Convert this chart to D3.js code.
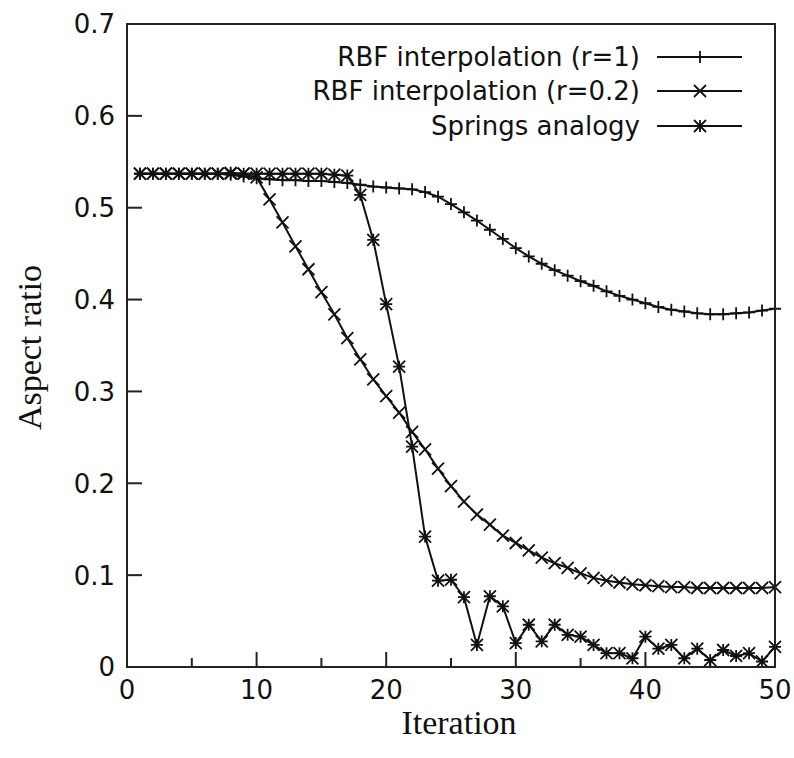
<!DOCTYPE html>
<html>
<head>
<meta charset="utf-8">
<script src="https://cdn.jsdelivr.net/npm/d3@7"></script>
<style>
  body { margin: 0; background: #fff; }
  svg { display: block; }
  .tick-label { font-family: "DejaVu Sans", sans-serif; font-size: 26px; fill: #111; }
  .axis-title { font-family: "Liberation Serif", serif; font-size: 34px; fill: #111; }
</style>
</head>
<body>
<div id="chart"></div>
<script>
// iteration numbers (x)
const iterations = [1, 2, 3, 4, 5, 6, 7, 8, 9, 10, 11, 12, 13, 14, 15, 16, 17, 18, 19, 20,
  21, 22, 23, 24, 25, 26, 27, 28, 29, 30, 31, 32, 33, 34, 35, 36, 37, 38, 39, 40,
  41, 42, 43, 44, 45, 46, 47, 48, 49, 50];

// RBF interpolation (r=1)
const rbf1 = [0.537, 0.537, 0.537, 0.537, 0.537, 0.537, 0.537, 0.536, 0.534, 0.532,
  0.531, 0.530, 0.530, 0.529, 0.529, 0.528, 0.527, 0.525, 0.523, 0.522,
  0.521, 0.520, 0.517, 0.512, 0.504, 0.495, 0.486, 0.476, 0.466, 0.456,
  0.447, 0.439, 0.432, 0.426, 0.420, 0.415, 0.409, 0.404, 0.400, 0.396,
  0.392, 0.389, 0.387, 0.385, 0.384, 0.384, 0.385, 0.386, 0.388, 0.390];

// RBF interpolation (r=0.2)
const rbf02 = [0.537, 0.537, 0.537, 0.537, 0.537, 0.537, 0.537, 0.537, 0.537, 0.533,
  0.509, 0.484, 0.458, 0.433, 0.408, 0.384, 0.358, 0.335, 0.313, 0.295,
  0.277, 0.256, 0.237, 0.216, 0.197, 0.180, 0.166, 0.155, 0.143, 0.135,
  0.127, 0.119, 0.113, 0.108, 0.102, 0.097, 0.094, 0.092, 0.090, 0.089,
  0.088, 0.087, 0.087, 0.086, 0.086, 0.086, 0.086, 0.086, 0.086, 0.087];

// Springs analogy
const springs = [0.537, 0.537, 0.537, 0.537, 0.537, 0.537, 0.537, 0.538, 0.537, 0.537,
  0.537, 0.537, 0.537, 0.537, 0.537, 0.536, 0.535, 0.514, 0.465, 0.395,
  0.327, 0.240, 0.142, 0.094, 0.095, 0.076, 0.024, 0.077, 0.066, 0.026,
  0.046, 0.028, 0.046, 0.035, 0.033, 0.024, 0.015, 0.015, 0.0095, 0.033,
  0.020, 0.024, 0.0095, 0.020, 0.0076, 0.0185, 0.012, 0.015, 0.006, 0.022];

const seriesNames = ['RBF interpolation (r=1)', 'RBF interpolation (r=0.2)', 'Springs analogy'];
const xTicks = [0, 10, 20, 30, 40, 50];
const xMinorTicks = [5, 15, 25, 35, 45];
const yTicks = [0, 0.1, 0.2, 0.3, 0.4, 0.5, 0.6, 0.7];

const W = 794, H = 758;
const margin = { top: 24, right: 19, bottom: 91, left: 127 };
const iw = W - margin.left - margin.right;
const ih = H - margin.top - margin.bottom;

const x = d3.scaleLinear().domain([0, 50]).range([0, iw]);
const y = d3.scaleLinear().domain([0, 0.7]).range([ih, 0]);

const svg = d3.select('#chart').append('svg')
  .attr('width', W).attr('height', H);
const g = svg.append('g').attr('transform', `translate(${margin.left},${margin.top})`);

// marker glyphs (gnuplot style)
const S = 6;
const plusPath = `M${-S},0H${S}M0,${-S}V${S}`;
const crossPath = `M${-S},${-S}L${S},${S}M${-S},${S}L${S},${-S}`;
const starPath = plusPath + crossPath;
const glyphs = [plusPath, crossPath, starPath];

const series = [rbf1, rbf02, springs].map((vals, i) => ({
  name: seriesNames[i],
  glyph: glyphs[i],
  points: iterations.map((it, j) => ({ x: it, y: vals[j] }))
}));

// ── ticks (inward) ──────────────────────────────
g.selectAll('.xtick').data(xTicks).join('line')
  .attr('x1', d => x(d)).attr('x2', d => x(d))
  .attr('y1', ih).attr('y2', ih - 15)
  .attr('stroke', '#222').attr('stroke-width', 2);
g.selectAll('.xminor').data(xMinorTicks).join('line')
  .attr('x1', d => x(d)).attr('x2', d => x(d))
  .attr('y1', ih).attr('y2', ih - 9)
  .attr('stroke', '#222').attr('stroke-width', 2);
g.selectAll('.ytick').data(yTicks).join('line')
  .attr('x1', 0).attr('x2', 15)
  .attr('y1', d => y(d)).attr('y2', d => y(d))
  .attr('stroke', '#222').attr('stroke-width', 2);

// tick labels
g.selectAll('.xlab').data(xTicks).join('text')
  .attr('class', 'tick-label')
  .attr('x', d => x(d)).attr('y', ih + 32)
  .attr('text-anchor', 'middle')
  .text(d => d);
g.selectAll('.ylab').data(yTicks).join('text')
  .attr('class', 'tick-label')
  .attr('x', -12).attr('y', d => y(d))
  .attr('dy', '0.36em')
  .attr('text-anchor', 'end')
  .text(d => d === 0 ? '0' : d3.format('.1f')(d));

// ── series ──────────────────────────────────────
const line = d3.line().x(d => x(d.x)).y(d => y(d.y));
series.forEach(s => {
  g.append('path')
    .datum(s.points)
    .attr('d', line)
    .attr('fill', 'none')
    .attr('stroke', '#111')
    .attr('stroke-width', 2);
  g.selectAll(null).data(s.points).join('path')
    .attr('transform', d => `translate(${x(d.x)},${y(d.y)})`)
    .attr('d', s.glyph)
    .attr('fill', 'none')
    .attr('stroke', '#111')
    .attr('stroke-width', 1.8);
});

// frame
g.append('rect')
  .attr('x', 0).attr('y', 0).attr('width', iw).attr('height', ih)
  .attr('fill', 'none').attr('stroke', '#222').attr('stroke-width', 2);

// ── legend ──────────────────────────────────────
const legend = svg.append('g');
const legY = [57, 91, 126];
series.forEach((s, i) => {
  legend.append('text')
    .attr('class', 'tick-label')
    .attr('x', 640).attr('y', legY[i])
    .attr('dy', '0.36em')
    .attr('text-anchor', 'end')
    .text(s.name);
  legend.append('line')
    .attr('x1', 657).attr('x2', 742)
    .attr('y1', legY[i]).attr('y2', legY[i])
    .attr('stroke', '#111').attr('stroke-width', 2);
  legend.append('path')
    .attr('transform', `translate(700,${legY[i]})`)
    .attr('d', s.glyph)
    .attr('fill', 'none').attr('stroke', '#111').attr('stroke-width', 1.8);
});

// axis titles
svg.append('text')
  .attr('class', 'axis-title')
  .attr('x', margin.left + iw / 2 + 8).attr('y', 734)
  .attr('text-anchor', 'middle')
  .text('Iteration');
svg.append('text')
  .attr('class', 'axis-title')
  .attr('transform', `translate(41,${margin.top + ih / 2 + 2}) rotate(-90)`)
  .attr('text-anchor', 'middle')
  .text('Aspect ratio');
</script>
</body>
</html>
